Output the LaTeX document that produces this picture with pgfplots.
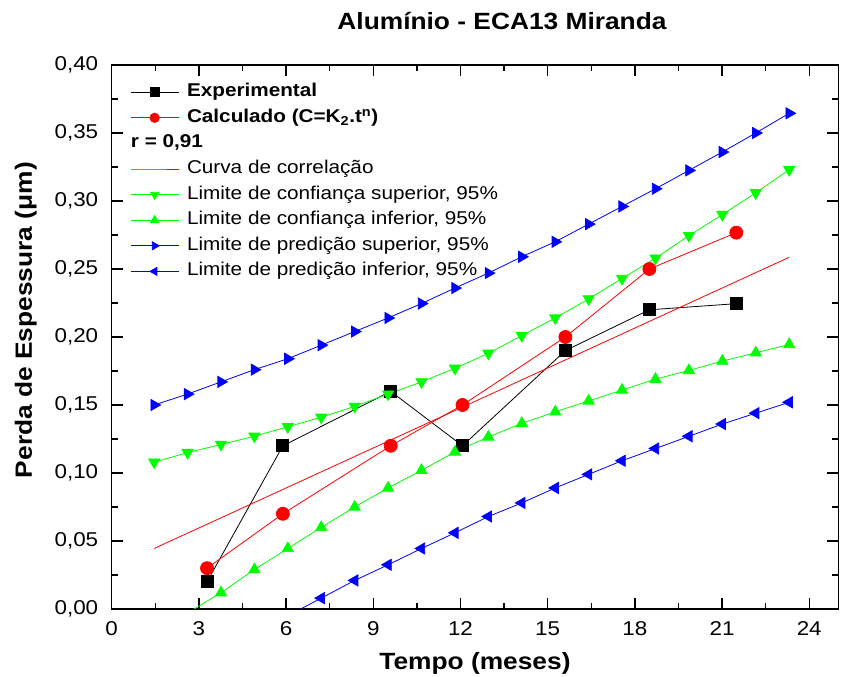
\documentclass[border=0pt]{standalone}
\usepackage{pgfplots}
\pgfplotsset{compat=1.18}
\usepackage{fontspec}
\setmainfont{Liberation Sans}[FakeStretch=1.12]

\definecolor{ogreen}{RGB}{0,255,0}
\definecolor{oblue}{RGB}{0,0,255}
\definecolor{ored}{RGB}{255,0,0}

\begin{document}
\begin{tikzpicture}
\begin{axis}[
name=ax,
scale only axis,
width=726.6pt, height=544pt,
xmin=0, xmax=25, ymin=0, ymax=0.4,
xtick={0,3,6,9,12,15,18,21,24},
ytick={0,0.05,0.10,0.15,0.20,0.25,0.30,0.35,0.40},
minor x tick num=1, minor y tick num=1,
tick align=inside,
major tick length=11pt, minor tick length=6pt,
axis line style={line width=1.6pt},
every tick/.style={line width=1.3pt, black},
tick label style={font=\fontsize{20}{24}\selectfont},
xticklabel style={yshift=-9pt, /pgf/number format/assume math mode=true},
yticklabel style={xshift=-10pt, /pgf/number format/.cd, fixed, fixed zerofill, precision=2, use comma, assume math mode=true},
title={Alumínio - ECA13 Miranda},
title style={font=\bfseries\fontsize{23.5}{28}\selectfont, at={(axis description cs:0.5,1)}, anchor=center, yshift=38pt, xshift=27pt},
xlabel={Tempo (meses)},
xlabel style={font=\bfseries\fontsize{23.5}{28}\selectfont, at={(axis description cs:0.5,0)}, anchor=center, yshift=-54pt},
ylabel={Perda de Espessura (μm)},
ylabel style={font=\bfseries\fontsize{23.5}{28}\selectfont, at={(axis description cs:0,0.531)}, anchor=center, yshift=86pt},
legend cell align=left,
legend image code/.code={\draw[mark repeat=2,mark phase=2,#1,every mark/.append style={scale=0.72}] plot coordinates {(0pt,0pt)(24pt,0pt)(48pt,0pt)};},
legend style={at={(axis description cs:0,1)}, anchor=north west, xshift=18.3pt, yshift=-18.5pt,
  draw=none, fill=none, inner sep=0pt, column sep=8pt, row sep=8.6pt,
  nodes={inner sep=0pt, text height=13pt, text depth=4pt},
  font=\fontsize{18.5}{22}\selectfont},
]
% experimental
\addplot[black, line width=0.8pt, mark=square*, mark size=6pt, mark options={solid}]
coordinates {(3.28,0.020) (5.89,0.120) (9.60,0.160) (12.07,0.120) (15.61,0.190) (18.50,0.220) (21.49,0.2245)};
\addlegendentry{\textbf{Experimental}}
% calculado
\addplot[ored, line width=0.8pt, mark=*, mark size=6.5pt]
coordinates {(3.28,0.030) (5.89,0.070) (9.60,0.120) (12.07,0.150) (15.61,0.200) (18.50,0.250) (21.49,0.2767)};
\addlegendentry{\textbf{Calculado (C=K\textsubscript{2}.t\textsuperscript{n})}}
\addlegendimage{empty legend}
\addlegendentry{\hspace*{-56pt}\textbf{r = 0,91}}
% curva de correlacao
\addplot[ored, line width=0.8pt, no marks]
coordinates {(1.46,0.0445) (23.31,0.2586)};
\addlegendentry{Curva de correlação}
% limite de confianca superior
\addplot[ogreen, line width=0.8pt, mark=triangle*, mark size=6.4pt, mark options={rotate=180}]
coordinates {(1.46,0.108) (2.61,0.115) (3.76,0.121) (4.91,0.127) (6.06,0.134) (7.21,0.141) (8.36,0.149) (9.51,0.158) (10.66,0.167) (11.81,0.177) (12.96,0.188) (14.11,0.201) (15.26,0.214) (16.41,0.228) (17.56,0.243) (18.71,0.258) (19.86,0.2745) (21.01,0.290) (22.16,0.306) (23.31,0.323)};
\addlegendentry{Limite de confiança superior, 95\%}
% limite de confianca inferior
\addplot[ogreen, line width=0.8pt, forget plot]
coordinates {(1.46,-0.019) (2.61,-0.003) (3.76,0.012)};
\addplot[ogreen, line width=0.8pt, mark=triangle*, mark size=6.4pt]
coordinates {(3.76,0.012) (4.91,0.029) (6.06,0.0445) (7.21,0.060) (8.36,0.075) (9.51,0.089) (10.66,0.102) (11.81,0.1155) (12.96,0.1265) (14.11,0.1365) (15.26,0.145) (16.41,0.153) (17.56,0.161) (18.71,0.169) (19.86,0.1754) (21.01,0.1823) (22.16,0.1884) (23.31,0.1945)};
\addlegendentry{Limite de confiança inferior, 95\%}
% limite de predicao superior
\addplot[oblue, line width=0.8pt, mark=triangle*, mark size=6.4pt, mark options={rotate=-90}]
coordinates {(1.46,0.150) (2.61,0.158) (3.76,0.167) (4.91,0.176) (6.06,0.184) (7.21,0.194) (8.36,0.204) (9.51,0.214) (10.66,0.2246) (11.81,0.236) (12.96,0.247) (14.11,0.259) (15.26,0.270) (16.41,0.283) (17.56,0.296) (18.71,0.309) (19.86,0.3225) (21.01,0.336) (22.16,0.350) (23.31,0.3645)};
\addlegendentry{Limite de predição superior, 95\%}
% limite de predicao inferior
\addplot[oblue, line width=0.8pt, forget plot]
coordinates {(1.46,-0.061) (2.61,-0.047) (3.76,-0.033) (4.91,-0.019) (6.06,-0.005) (7.21,0.008)};
\addplot[oblue, line width=0.8pt, mark=triangle*, mark size=6.4pt, mark options={rotate=90}]
coordinates {(7.21,0.008) (8.36,0.021) (9.51,0.0325) (10.66,0.0445) (11.81,0.056) (12.96,0.068) (14.11,0.078) (15.26,0.089) (16.41,0.099) (17.56,0.109) (18.71,0.118) (19.86,0.127) (21.01,0.136) (22.16,0.144) (23.31,0.152)};
\addlegendentry{Limite de predição inferior, 95\%}
\end{axis}
\pgfresetboundingbox
\path ([shift={(-111.7pt,-68pt)}]ax.south west) rectangle ([shift={(2.7pt,65pt)}]ax.north east);
\end{tikzpicture}
\end{document}
